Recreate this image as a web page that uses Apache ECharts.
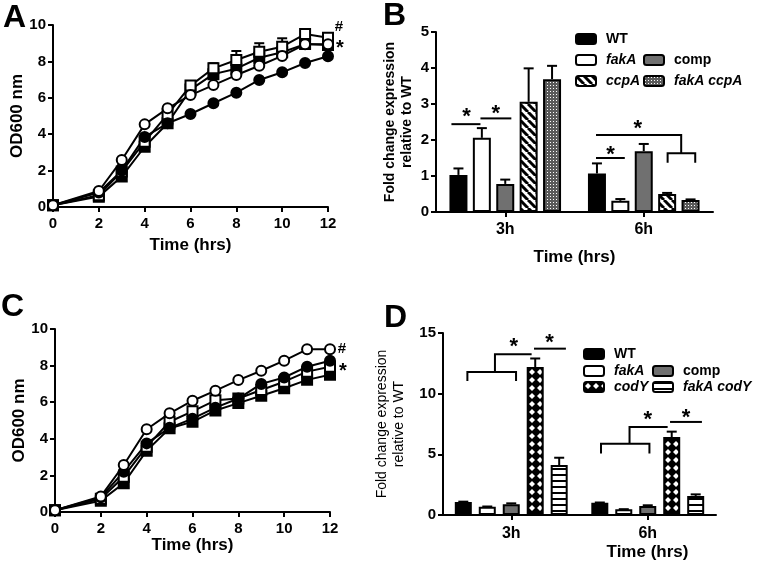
<!DOCTYPE html>
<html><head><meta charset="utf-8">
<script src="https://cdn.jsdelivr.net/npm/echarts@6/dist/echarts.min.js"></script>
<style>html,body{margin:0;padding:0;background:#fff}#c{width:766px;height:572px}</style>
</head><body><div id="c"></div>
<script>
// ---------- DATA ----------
const timeHrs = [0, 2, 3, 4, 5, 6, 7, 8, 9, 10, 11, 12];
// Panel A (OD600)
const aFilledCircle = [0.1, 0.8, 2.0, 3.85, 4.6, 5.11, 5.7, 6.28, 6.98, 7.4, 7.91, 8.28];
const aOpenCircle   = [0.1, 0.88, 2.58, 4.54, 5.42, 6.15, 6.7, 7.25, 7.76, 8.3, 8.94, 8.94];
const aFilledSquare = [0.1, 0.57, 1.67, 3.31, 4.6, 6.45, 7.3, 7.6, 8.2, 8.5, 8.95, 8.9];
const aOpenSquare   = [0.1, 0.65, 1.95, 3.59, 5.09, 6.67, 7.62, 8.08, 8.53, 8.81, 9.5, 9.3];
const aErrTimes = [7, 8, 9, 10];
const aErrTops  = [7.9, 8.57, 9.0, 9.27];
// Panel C (OD600)
const cOpenCircle   = [0.1, 0.85, 2.57, 4.52, 5.39, 6.08, 6.63, 7.21, 7.72, 8.27, 8.89, 8.89];
const cFilledCircle = [0.1, 0.8, 2.2, 3.75, 4.6, 5.1, 5.7, 6.2, 7.0, 7.35, 7.94, 8.27];
const cOpenSquare   = [0.1, 0.72, 1.93, 3.57, 4.93, 5.5, 6.1, 6.2, 6.67, 7.12, 7.67, 7.94];
const cFilledSquare = [0.1, 0.62, 1.57, 3.35, 4.57, 4.93, 5.55, 5.95, 6.35, 6.76, 7.22, 7.5];
// Panel B (fold change)
const barCats = ['3h', '6h'];
const bNames = ['WT', 'fakA', 'comp', 'ccpA', 'fakA ccpA'];
const bWT = [1.03, 1.07],       bWTErr = [1.21, 1.35];
const bFakA = [2.06, 0.31],     bFakAErr = [2.33, 0.36];
const bComp = [0.78, 1.69],     bCompErr = [0.9, 1.89];
const bCcpA = [3.06, 0.5],      bCcpAErr = [3.99, 0.53];
const bFakACcpA = [3.69, 0.33], bFakACcpAErr = [4.06, 0.35];
// Panel D (fold change)
const dNames = ['WT', 'fakA', 'comp', 'codY', 'fakA codY'];
const dWT = [1.07, 1.01],       dWTErr = [1.1, 1.03];
const dFakA = [0.69, 0.47],     dFakAErr = [0.7, 0.48];
const dComp = [0.88, 0.74],     dCompErr = [0.96, 0.8];
const dCodY = [12.2, 6.43],     dCodYErr = [12.9, 6.87];
const dFakACodY = [4.12, 1.57], dFakACodYErr = [4.72, 1.7];
// Significance annotations (category index, bar slot, value)
const bSigLines = [[0, -0.3, 0.94, 2.44], [0, 0.94, 2.26, 2.6], [1, -0.04, 1.19, 1.5]];
const bBrackets = [[1, 3.02, 4.2, 1.63, 1.37, 3.6, 2.14, -0.04]];
const bStars = [[0, 0.35, 2.74], [0, 1.6, 2.83], [1, 0.58, 1.7], [1, 1.74, 2.42]];
const dSigLines = [[0, 2.95, 4.28, 13.71], [1, 2.93, 4.26, 7.67]];
const dBrackets = [[0, 0.17, 2.2, 11.79, 11.05, 1.32, 13.25, 2.85], [1, 0.05, 2.07, 5.88, 5.06, 1.24, 7.25, 2.83]];
const dStars = [[0, 2.11, 14.15], [0, 3.6, 14.48], [1, 2.0, 8.16], [1, 3.6, 8.35]];

// ---------- STYLE HELPERS ----------
const FONT = '"Liberation Sans", Arial, Helvetica, sans-serif';
function pattern(kind) {
  const c = document.createElement('canvas');
  const ctx = c.getContext('2d');
  if (kind === 'diag') {
    c.width = 8; c.height = 8;
    ctx.fillStyle = '#fff'; ctx.fillRect(0, 0, 8, 8);
    ctx.strokeStyle = '#000'; ctx.lineWidth = 3;
    for (const k of [-8, 0, 8]) { ctx.beginPath(); ctx.moveTo(k, 0); ctx.lineTo(k + 8, 8); ctx.stroke(); }
  } else if (kind === 'dots') {
    c.width = 3; c.height = 3;
    ctx.fillStyle = '#5a5a5a'; ctx.fillRect(0, 0, 3, 3);
    ctx.fillStyle = '#fff'; ctx.fillRect(1, 1, 1, 1);
  } else if (kind === 'cross') {
    c.width = 8; c.height = 8;
    ctx.fillStyle = '#000'; ctx.fillRect(0, 0, 8, 8);
    ctx.fillStyle = '#fff'; ctx.beginPath();
    ctx.moveTo(4, 1); ctx.lineTo(7, 4); ctx.lineTo(4, 7); ctx.lineTo(1, 4); ctx.closePath(); ctx.fill();
  } else if (kind === 'hstripe') {
    c.width = 6; c.height = 6;
    ctx.fillStyle = '#fff'; ctx.fillRect(0, 0, 6, 6);
    ctx.fillStyle = '#000'; ctx.fillRect(0, 0, 6, 2);
  }
  return { image: c, repeat: 'repeat' };
}
const axisLine = { show: true, onZero: false, lineStyle: { color: '#000', width: 2 } };
const axisTick = { show: true, length: 5, lineStyle: { color: '#000', width: 2 } };
const lbl = (size, margin) => ({ color: '#000', fontWeight: 'bold', fontSize: size, fontFamily: FONT, margin: margin });
const nameStyle = (size, weight, extra) => Object.assign({ color: '#000', fontWeight: weight, fontSize: size, fontFamily: FONT }, extra || {});

const grids = [
  { left: 53, top: 25, width: 275, height: 182 },
  { left: 436, top: 32, width: 277, height: 180 },
  { left: 55, top: 329, width: 275, height: 183 },
  { left: 443, top: 333, width: 273, height: 182 }
];
const xAxes = [
  { gridIndex: 0, type: 'value', min: 0, max: 12, interval: 2, axisLine, axisTick, splitLine: { show: false }, axisLabel: lbl(15, 9),
    name: 'Time (hrs)', nameLocation: 'middle', nameGap: 30, nameTextStyle: nameStyle(17, 'bold') },
  { gridIndex: 1, type: 'category', data: barCats, axisLine, axisTick: Object.assign({ alignWithLabel: true }, axisTick), axisLabel: lbl(16, 10),
    name: 'Time (hrs)', nameLocation: 'middle', nameGap: 37, nameTextStyle: nameStyle(17, 'bold') },
  { gridIndex: 2, type: 'value', min: 0, max: 12, interval: 2, axisLine, axisTick, splitLine: { show: false }, axisLabel: lbl(15, 9),
    name: 'Time (hrs)', nameLocation: 'middle', nameGap: 22, nameTextStyle: nameStyle(17, 'bold') },
  { gridIndex: 3, type: 'category', data: barCats, axisLine, axisTick: Object.assign({ alignWithLabel: true }, axisTick), axisLabel: lbl(16, 11),
    name: 'Time (hrs)', nameLocation: 'middle', nameGap: 29, nameTextStyle: nameStyle(17, 'bold', { padding: [0, 0, 0, 136] }) }
];
const yAxes = [
  { gridIndex: 0, type: 'value', min: 0, max: 10, interval: 2, axisLine, axisTick, splitLine: { show: false }, axisLabel: lbl(15, 7),
    name: 'OD600 nm', nameLocation: 'middle', nameRotate: 90, nameGap: 26, nameTextStyle: nameStyle(17, 'bold') },
  { gridIndex: 1, type: 'value', min: 0, max: 5, interval: 1, axisLine, axisTick, splitLine: { show: false }, axisLabel: lbl(15, 7),
    name: 'Fold change expression\nrelative to WT', nameLocation: 'middle', nameRotate: 90, nameGap: 20, nameTextStyle: nameStyle(14, 'bold', { lineHeight: 17 }) },
  { gridIndex: 2, type: 'value', min: 0, max: 10, interval: 2, axisLine, axisTick, splitLine: { show: false }, axisLabel: lbl(15, 7),
    name: 'OD600 nm', nameLocation: 'middle', nameRotate: 90, nameGap: 24, nameTextStyle: nameStyle(17, 'bold') },
  { gridIndex: 3, type: 'value', min: 0, max: 15, interval: 5, axisLine, axisTick, splitLine: { show: false }, axisLabel: lbl(15, 7),
    name: 'Fold change expression\nrelative to WT', nameLocation: 'middle', nameRotate: 90, nameGap: 35, nameTextStyle: nameStyle(14, 'normal', { lineHeight: 17 }) }
];

// ---------- SERIES ----------
const series = [];
function lineSeries(gi, id, values, symbol, filled) {
  series.push({
    type: 'line', id: id, xAxisIndex: gi, yAxisIndex: gi,
    data: timeHrs.map((t, i) => [t, values[i]]),
    symbol: symbol, symbolSize: 10, showSymbol: true,
    lineStyle: { color: '#000', width: 2 },
    itemStyle: { color: filled ? '#000' : '#fff', borderColor: '#000', borderWidth: 2 },
    emphasis: { disabled: true }, z: 3
  });
}
// Panel A error bars (open square series)
series.push({
  type: 'custom', xAxisIndex: 0, yAxisIndex: 0, z: 2,
  data: aErrTimes.map((t, i) => [t, aOpenSquare[timeHrs.indexOf(t)], aErrTops[i]]),
  encode: { x: 0, y: [1, 2] },
  renderItem: (p, api) => {
    const a = api.coord([api.value(0), api.value(1)]);
    const b = api.coord([api.value(0), api.value(2)]);
    return { type: 'group', children: [
      { type: 'line', shape: { x1: a[0], y1: a[1], x2: b[0], y2: b[1] }, style: { stroke: '#000', lineWidth: 2 } },
      { type: 'line', shape: { x1: b[0] - 5, y1: b[1], x2: b[0] + 5, y2: b[1] }, style: { stroke: '#000', lineWidth: 2 } }
    ] };
  }
});
lineSeries(0, 'aFS', aFilledSquare, 'rect', true);
lineSeries(0, 'aOS', aOpenSquare, 'rect', false);
lineSeries(0, 'aFC', aFilledCircle, 'circle', true);
lineSeries(0, 'aOC', aOpenCircle, 'circle', false);
lineSeries(2, 'cFS', cFilledSquare, 'rect', true);
lineSeries(2, 'cOS', cOpenSquare, 'rect', false);
lineSeries(2, 'cFC', cFilledCircle, 'circle', true);
lineSeries(2, 'cOC', cOpenCircle, 'circle', false);

const B_BW = 18, B_GAP = 0.3, D_BW = 17, D_GAP = 0.41;
const bSlot = B_BW * (1 + B_GAP), dSlot = D_BW * (1 + D_GAP);
function barPanel(gi, names, vals, errs, fills, bw, gap, slotPx) {
  names.forEach((n, k) => {
    series.push({
      type: 'bar', name: n, xAxisIndex: gi, yAxisIndex: gi, data: vals[k],
      barWidth: bw, barGap: (gap * 100) + '%',
      itemStyle: { color: fills[k], borderColor: '#000', borderWidth: 2 },
      emphasis: { disabled: true }, z: 2
    });
  });
  const errData = [];
  names.forEach((n, k) => vals[k].forEach((v, c) => errData.push([c, k, v, errs[k][c]])));
  series.push({
    type: 'custom', xAxisIndex: gi, yAxisIndex: gi, z: 1, data: errData,
    encode: { x: 0, y: [2, 3] },
    renderItem: (p, api) => {
      const a = api.coord([api.value(0), api.value(2)]);
      const b = api.coord([api.value(0), api.value(3)]);
      const x = a[0] + (api.value(1) - 2) * slotPx;
      return { type: 'group', children: [
        { type: 'line', shape: { x1: x, y1: a[1], x2: x, y2: b[1] }, style: { stroke: '#000', lineWidth: 2 } },
        { type: 'line', shape: { x1: x - 5, y1: b[1], x2: x + 5, y2: b[1] }, style: { stroke: '#000', lineWidth: 2 } }
      ] };
    }
  });
}
barPanel(1, bNames, [bWT, bFakA, bComp, bCcpA, bFakACcpA], [bWTErr, bFakAErr, bCompErr, bCcpAErr, bFakACcpAErr],
  ['#000', '#fff', '#707070', pattern('diag'), pattern('dots')], B_BW, B_GAP, bSlot);
barPanel(3, dNames, [dWT, dFakA, dComp, dCodY, dFakACodY], [dWTErr, dFakAErr, dCompErr, dCodYErr, dFakACodYErr],
  ['#000', '#fff', '#707070', pattern('cross'), pattern('hstripe')], D_BW, D_GAP, dSlot);

// ---------- LEGENDS ----------
const plain = ['WT', 'comp'];
function legendItem(name, left, top) {
  return {
    data: [name], left: left, top: top, padding: 0, itemWidth: 20, itemHeight: 10, icon: 'roundRect',
    selectedMode: false, itemStyle: { borderColor: '#000', borderWidth: 2 },
    formatter: n => plain.includes(n) ? '{p|' + n + '}' : '{i|' + n + '}',
    textStyle: { color: '#000', padding: [0, 0, 0, 5], rich: {
      p: { fontWeight: 'bold', fontSize: 14, fontFamily: FONT, color: '#000' },
      i: { fontWeight: 'bold', fontStyle: 'italic', fontSize: 14, fontFamily: FONT, color: '#000' } } }
  };
}
const legends = [
  legendItem('WT', 575, 32), legendItem('fakA', 575, 53), legendItem('comp', 643, 53),
  legendItem('ccpA', 575, 74), legendItem('fakA ccpA', 643, 74),
  legendItem('WT', 583, 347), legendItem('fakA', 583, 364), legendItem('comp', 652, 364),
  legendItem('codY', 583, 380), legendItem('fakA codY', 652, 380)
];

const chart = echarts.init(document.getElementById('c'));
chart.setOption({
  animation: false, backgroundColor: '#fff',
  grid: grids, xAxis: xAxes, yAxis: yAxes, legend: legends, series: series
});

// ---------- ANNOTATIONS (positioned through the axes) ----------
const g = [];
const S = { stroke: '#000', lineWidth: 2 };
const letter = (t, x, y) => g.push({ type: 'text', x: x, y: y, z: 10, style: { text: t, fontSize: 32, fontWeight: 'bold', fontFamily: FONT, fill: '#000', stroke: null, lineWidth: 0 } });
function bp(gi, slotPx, c, s, v) { const p = chart.convertToPixel({ gridIndex: gi }, [c, v]); return [p[0] + (s - 2) * slotPx, p[1]]; }
function poly(pts) { g.push({ type: 'polyline', shape: { points: pts }, style: Object.assign({ fill: null }, S), z: 10 }); }
function star(x, y, size) { g.push({ type: 'text', x: x, y: y + size * 0.18, z: 10, style: { text: '*', fontSize: size, fontWeight: 'bold', fontFamily: FONT, fill: '#000', align: 'center', verticalAlign: 'middle' } }); }
function annotate(gi, slotPx, lines, brackets, stars) {
  lines.forEach(([c, s1, s2, v]) => poly([bp(gi, slotPx, c, s1, v), bp(gi, slotPx, c, s2, v)]));
  brackets.forEach(([c, s1, s2, yb, yt, stem, ytop, sto]) => {
    poly([bp(gi, slotPx, c, s1, yt), bp(gi, slotPx, c, s1, yb), bp(gi, slotPx, c, s2, yb), bp(gi, slotPx, c, s2, yt)]);
    poly([bp(gi, slotPx, c, stem, yb), bp(gi, slotPx, c, stem, ytop), bp(gi, slotPx, c, sto, ytop)]);
  });
  stars.forEach(([c, s, v]) => { const p = bp(gi, slotPx, c, s, v); star(p[0], p[1], 22); });
}
annotate(1, bSlot, bSigLines, bBrackets, bStars);
annotate(3, dSlot, dSigLines, dBrackets, dStars);
function endMark(gi, values, text, dx, dy, size) {
  const p = chart.convertToPixel({ gridIndex: gi }, [timeHrs[timeHrs.length - 1], values[values.length - 1]]);
  g.push({ type: 'text', x: p[0] + dx, y: p[1] + dy + (text === '*' ? size * 0.18 : 0), z: 10,
    style: { text: text, fontSize: size, fontWeight: 'bold', fontFamily: FONT, fill: '#000', align: 'center', verticalAlign: 'middle' } });
}
endMark(0, aOpenSquare, '#', 11, -11, 15);
endMark(0, aOpenCircle, '*', 12, 1, 20);
endMark(2, cOpenCircle, '#', 12, 0, 15);
endMark(2, cOpenSquare, '*', 13, 1, 20);
letter('A', 3, 2); letter('B', 383, 0); letter('C', 1, 291); letter('D', 384, 302);
chart.setOption({ graphic: g });
</script></body></html>
